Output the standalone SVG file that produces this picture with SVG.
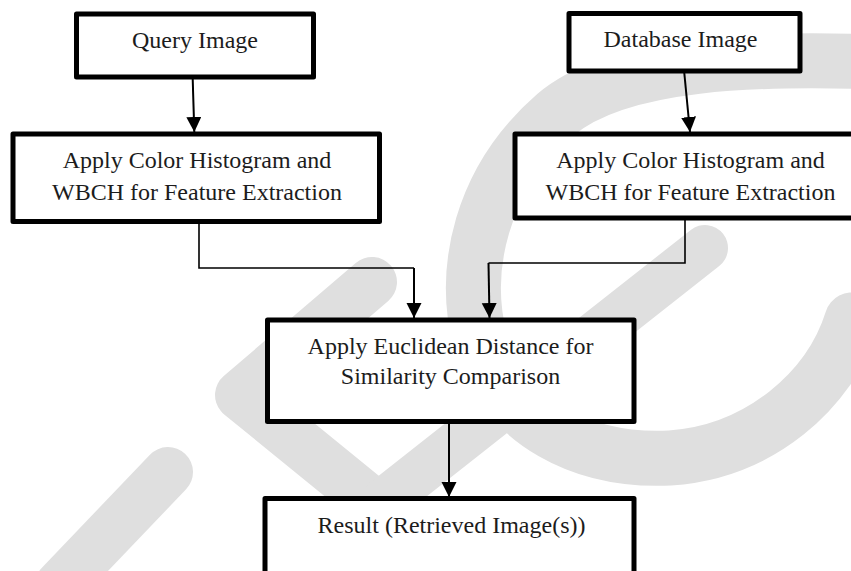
<svg xmlns="http://www.w3.org/2000/svg" width="851" height="571" viewBox="0 0 851 571">
  <defs>
    <style>
      .wm { fill: none; stroke: #dfdfdf; stroke-linecap: round; stroke-linejoin: round; }
      .box { fill: #ffffff; stroke: #000000; stroke-width: 5; stroke-linejoin: round; }
      .lbl { font-family: "Liberation Serif", "Times New Roman", serif; font-size: 24px; fill: #1c1c1c; text-anchor: middle; }
      .arr { fill: none; stroke: #000000; stroke-width: 2; }
      .elb { fill: none; stroke: #000000; stroke-width: 1.6; }
    </style>
    <marker id="ah" markerUnits="userSpaceOnUse" markerWidth="16" markerHeight="16" refX="15" refY="7.5" orient="auto" viewBox="0 0 16 16">
      <path d="M0,0 L15,7.5 L0,15 z" fill="#000000"/>
    </marker>
  </defs>
  <rect width="851" height="571" fill="#ffffff"/>
  <g id="watermark">
    <path class="wm" stroke-width="55" d="M880,62 C760,58 620,60 555,115 C480,180 462,270 480,340 C505,425 585,462 670,458 C760,452 830,390 852,320"/>
    <path class="wm" stroke-width="50" d="M372,282 L240,395 L375,505"/>
    <path class="wm" stroke-width="46" d="M385,500 L705,248"/>
    <path class="wm" stroke-width="50" d="M168,472 L60,585"/>
  </g>
  <g id="connectors">
    <line class="arr" x1="192.7" y1="79" x2="194.3" y2="132" marker-end="url(#ah)"/>
    <line class="arr" x1="684.3" y1="73" x2="690" y2="132" marker-end="url(#ah)"/>
    <path class="elb" d="M199,224 V268 H414"/>
    <line class="arr" x1="414" y1="268" x2="414" y2="318" marker-end="url(#ah)"/>
    <path class="elb" d="M685,220 V263 H488.5"/>
    <line class="arr" x1="488.5" y1="263" x2="489.5" y2="318" marker-end="url(#ah)"/>
    <line class="arr" x1="449" y1="424" x2="449" y2="497" marker-end="url(#ah)"/>
  </g>
  <g id="query-image">
    <rect class="box" x="76.5" y="14" width="237" height="63"/>
    <text class="lbl" x="195" y="48">Query Image</text>
  </g>
  <g id="database-image">
    <rect class="box" x="569" y="13.5" width="231" height="57.5"/>
    <text class="lbl" x="680.5" y="47">Database Image</text>
  </g>
  <g id="feature-left">
    <rect class="box" x="13" y="134" width="366.5" height="87.5"/>
    <text class="lbl" x="197" y="168">Apply Color Histogram and</text>
    <text class="lbl" x="197" y="199.5">WBCH for Feature Extraction</text>
  </g>
  <g id="feature-right">
    <rect class="box" x="515" y="134" width="352" height="84"/>
    <text class="lbl" x="690.5" y="168">Apply Color Histogram and</text>
    <text class="lbl" x="690.5" y="199.5">WBCH for Feature Extraction</text>
  </g>
  <g id="euclidean">
    <rect class="box" x="267.5" y="320" width="366.5" height="101.5"/>
    <text class="lbl" x="450.5" y="353.5">Apply Euclidean Distance for</text>
    <text class="lbl" x="450.5" y="384">Similarity Comparison</text>
  </g>
  <g id="result">
    <rect class="box" x="265" y="498.5" width="369" height="100"/>
    <text class="lbl" x="451.5" y="532.5">Result (Retrieved Image(s))</text>
  </g>
</svg>
